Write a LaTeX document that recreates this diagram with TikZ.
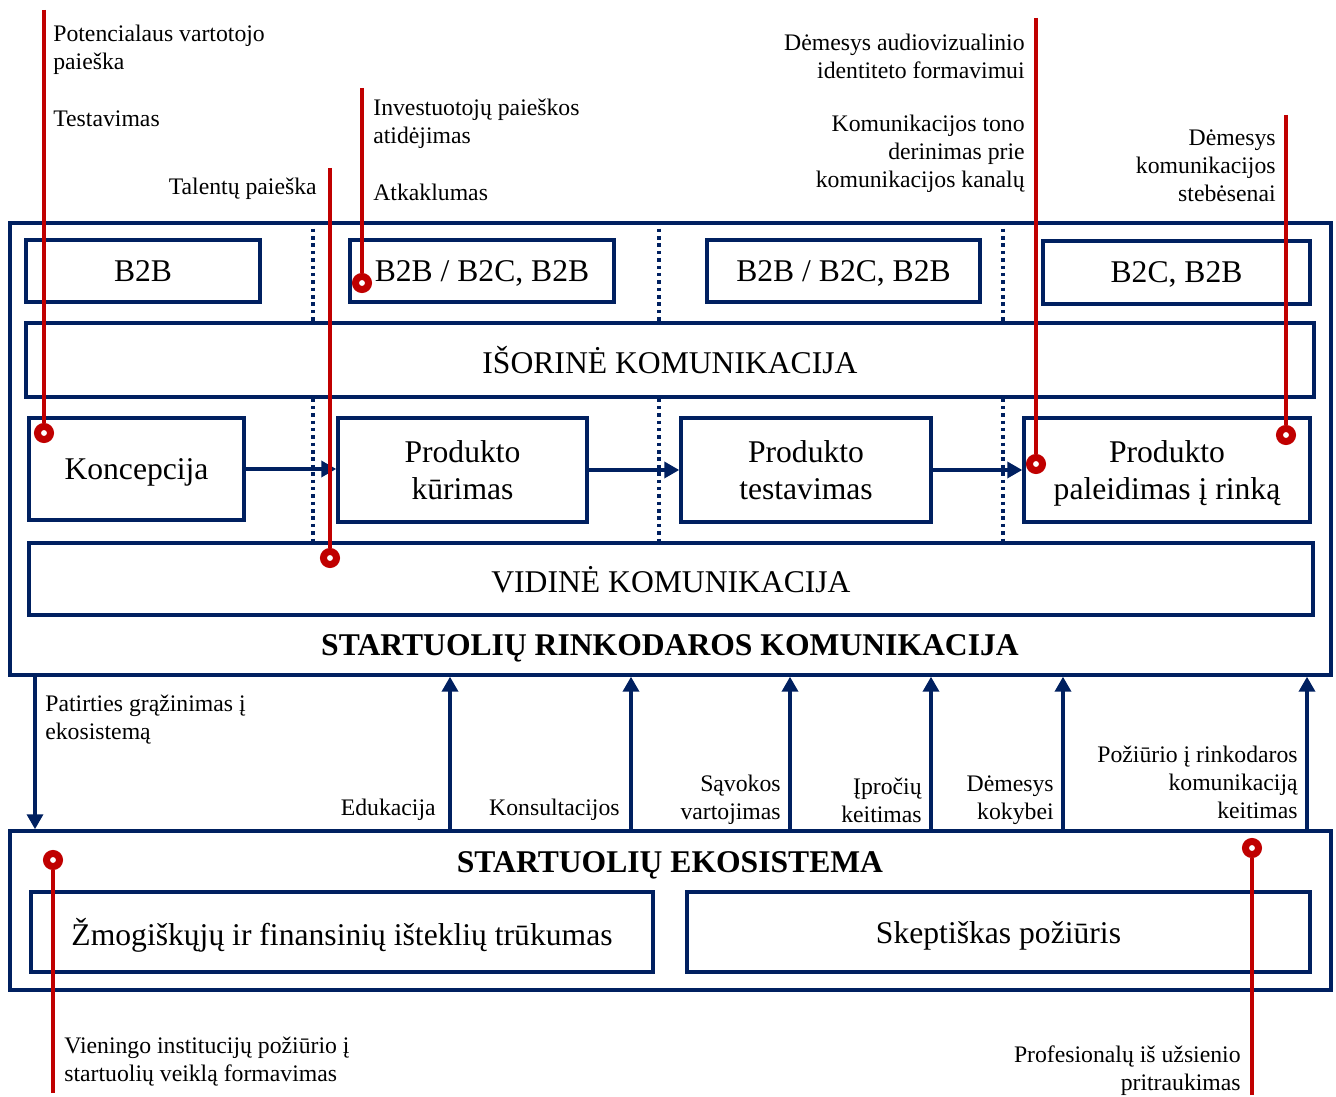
\documentclass[tikz,border=0pt]{standalone}
\usepackage{fontspec}
\setmainfont{Liberation Serif}
\usetikzlibrary{arrows.meta}
\definecolor{navy}{RGB}{0,32,96}
\definecolor{callred}{RGB}{192,0,0}

\begin{document}
\begin{tikzpicture}[
  x=0.02cm, y=-0.02cm,
  box/.style={rectangle, draw=navy, line width=2pt, fill=white, align=center,
              inner sep=0pt, text depth=0pt, font=\fontsize{18}{21}\selectfont},
  title/.style={inner sep=0pt, font=\fontsize{18}{21}\selectfont\bfseries},
  note/.style={inner sep=0pt, font=\fontsize{13.5}{15.9}\selectfont},
  flow/.style={-{Triangle[length=3mm,width=3.2mm]}, line width=2pt, draw=navy},
  sep/.style={draw=navy, line width=2pt, dash pattern=on 2pt off 2.2pt},
  callout/.style={draw=callred, line width=2pt},
  ring/.style={circle, draw=callred, fill=white, line width=0.14cm,
               minimum size=0.26cm, inner sep=0pt}
]
\useasboundingbox (0,0) rectangle (1336,1097);

% Outer frame
\node[box, minimum width=26.42cm, minimum height=9.04cm] (outer) at (670.5,449) {};
\node[title] (outtitle) at (670,648) {STARTUOLIŲ RINKODAROS KOMUNIKACIJA};

% Stage separators
\coordinate (s1) at (313,0);
\coordinate (s2) at (659,0);
\coordinate (s3) at (1003,0);
\node[box, minimum width=25.68cm, minimum height=1.44cm] (int) at (671,579) {VIDINĖ KOMUNIKACIJA};
\draw[sep] (outer.north -| s1) -- (int.north -| s1);
\draw[sep] (outer.north -| s2) -- (int.north -| s2);
\draw[sep] (outer.north -| s3) -- (int.north -| s3);

% Audiences
\node[box, minimum width=4.68cm, minimum height=1.24cm] (b1) at (143,271) {B2B};
\node[box, minimum width=5.28cm, minimum height=1.24cm] (b2) at (482,271) {B2B / B2C, B2B};
\node[box, minimum width=5.46cm, minimum height=1.24cm] (b3) at (843.5,271) {B2B / B2C, B2B};
\node[box, minimum width=5.34cm, minimum height=1.26cm] (b4) at (1176.5,272.5) {B2C, B2B};

\node[box, minimum width=25.76cm, minimum height=1.48cm] (ext) at (670,360) {IŠORINĖ KOMUNIKACIJA};

% Stages
\node[box, minimum width=4.3cm, minimum height=2.04cm] (p1) at (136.5,469) {Koncepcija};
\node[box, minimum width=4.98cm, minimum height=2.08cm] (p2) at (462.5,470) {Produkto\\kūrimas};
\node[box, minimum width=5.0cm, minimum height=2.08cm] (p3) at (806,470) {Produkto\\testavimas};
\node[box, minimum width=5.72cm, minimum height=2.08cm] (p4) at (1167,470) {Produkto\\paleidimas į rinką};

\draw[flow] (p1.east) -- (p1.east -| p2.west);
\draw[flow] (p2.east) -- (p3.west);
\draw[flow] (p3.east) -- (p4.west);

% Ecosystem
\node[box, minimum width=26.42cm, minimum height=3.18cm] (eco) at (670.5,910.5) {};
\node[title] (ecotitle) at (670,865) {STARTUOLIŲ EKOSISTEMA};
\node[box, minimum width=12.44cm, minimum height=1.6cm] (r1) at (342,932) {Žmogiškųjų ir finansinių išteklių trūkumas};
\node[box, minimum width=12.46cm, minimum height=1.6cm] (r2) at (998.5,932) {Skeptiškas požiūris};

% Links between ecosystem and communication
\coordinate (u0) at (35,0);
\coordinate (u1) at (450,0);
\coordinate (u2) at (631,0);
\coordinate (u3) at (790,0);
\coordinate (u4) at (931,0);
\coordinate (u5) at (1063,0);
\coordinate (u6) at (1307,0);
\draw[flow] (outer.south -| u0) -- (eco.north -| u0);
\foreach \u in {u1,u2,u3,u4,u5,u6}
  \draw[flow] (eco.north -| \u) -- (outer.south -| \u);

\node[note, anchor=west, align=left] (l0) at (45,720) {Patirties grąžinimas į\\ekosistemą};
\node[note, anchor=east] (l1) at (436,810) {Edukacija};
\node[note, anchor=east] (l2) at (620,810) {Konsultacijos};
\node[note, anchor=east, align=right] (l3) at (781,800) {Sąvokos\\vartojimas};
\node[note, anchor=east, align=right] (l4) at (922,800) {Įpročių\\keitimas};
\node[note, anchor=east, align=right] (l5) at (1054,800) {Dėmesys\\kokybei};
\node[note, anchor=east, align=right] (l6) at (1298,782) {Požiūrio į rinkodaros\\komunikaciją\\keitimas};

% Callouts
\coordinate (c1) at (44,10);
\coordinate (c2) at (362,88);
\coordinate (c3) at (330,168);
\coordinate (c4) at (1036,18);
\coordinate (c5) at (1286,115);
\coordinate (c6) at (53,1093);
\coordinate (c7) at (1252,1095);
\node[ring] (m1) at (44,433) {};
\node[ring] (m2) at (362,283) {};
\node[ring] (m3) at (330,558) {};
\node[ring] (m4) at (1036,464) {};
\node[ring] (m5) at (1286,435) {};
\node[ring] (m6) at (53,860) {};
\node[ring] (m7) at (1252,848) {};
\draw[callout] (c1) -- (m1);
\draw[callout] (c2) -- (m2);
\draw[callout] (c3) -- (m3);
\draw[callout] (c4) -- (m4);
\draw[callout] (c5) -- (m5);
\draw[callout] (c6) -- (m6);
\draw[callout] (c7) -- (m7);

\node[note, anchor=west, align=left] (t1a) at (53,50) {Potencialaus vartotojo\\paieška};
\node[note, anchor=west] (t1b) at (53,119) {Testavimas};
\node[note, anchor=west, align=left] (t2a) at (373,124) {Investuotojų paieškos\\atidėjimas};
\node[note, anchor=west] (t2b) at (373,192) {Atkaklumas};
\node[note, anchor=east] (t3) at (317,189) {Talentų paieška};
\node[note, anchor=east, align=right] (t4a) at (1025,56) {Dėmesys audiovizualinio\\identiteto formavimui};
\node[note, anchor=east, align=right] (t4b) at (1025,154) {Komunikacijos tono\\derinimas prie\\komunikacijos kanalų};
\node[note, anchor=east, align=right] (t5) at (1276,166) {Dėmesys\\komunikacijos\\stebėsenai};
\node[note, anchor=west, align=left] (t6) at (64,1062) {Vieningo institucijų požiūrio į\\startuolių veiklą formavimas};
\node[note, anchor=east, align=right] (t7) at (1241,1071) {Profesionalų iš užsienio\\pritraukimas};

\end{tikzpicture}
\end{document}
